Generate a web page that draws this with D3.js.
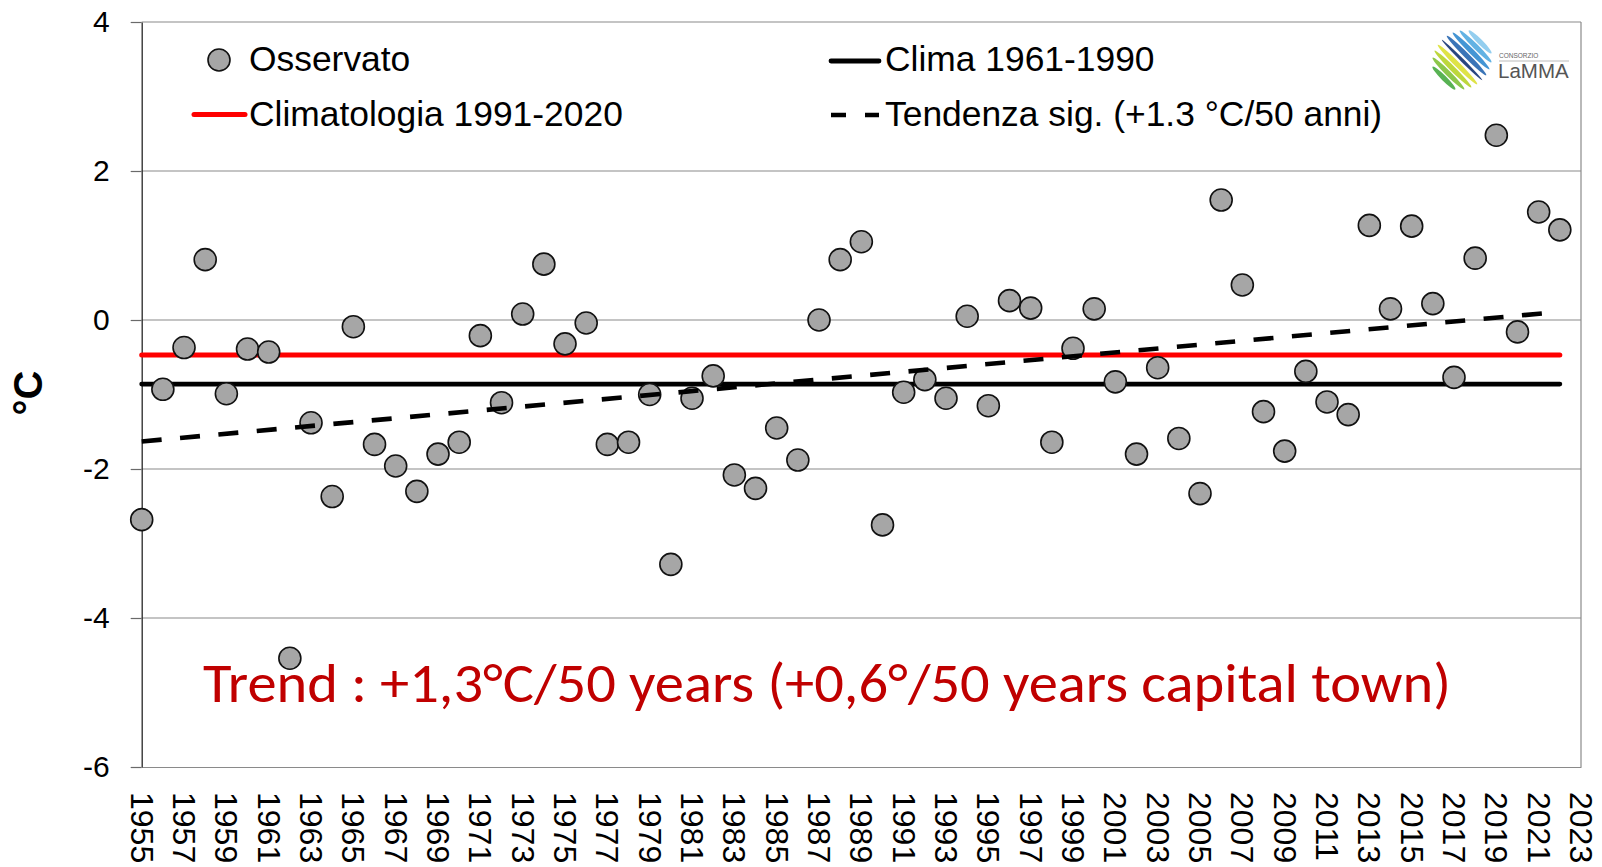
<!DOCTYPE html>
<html>
<head>
<meta charset="utf-8">
<script src="https://cdn.jsdelivr.net/npm/d3@7"></script>
<style>
  html, body { margin: 0; padding: 0; background: #fff; }
  svg { display: block; }
</style>
</head>
<body>
<svg id="chart" width="1602" height="867"></svg>
<script>
// Annual temperature anomaly (°C), observed series
const years = [1955,1956,1957,1958,1959,1960,1961,1962,1963,1964,
  1965,1966,1967,1968,1969,1970,1971,1972,1973,1974,
  1975,1976,1977,1978,1979,1980,1981,1982,1983,1984,
  1985,1986,1987,1988,1989,1990,1991,1992,1993,1994,
  1995,1996,1997,1998,1999,2000,2001,2002,2003,2004,
  2005,2006,2007,2008,2009,2010,2011,2012,2013,2014,
  2015,2016,2017,2018,2019,2020,2021,2022];

const observed = [-2.68,-0.93,-0.37,0.81,-0.99,-0.39,-0.43,-4.54,-1.38,-2.37,
  -0.09,-1.67,-1.96,-2.30,-1.80,-1.64,-0.21,-1.11,0.08,0.75,
  -0.32,-0.04,-1.67,-1.64,-1.00,-3.28,-1.05,-0.75,-2.08,-2.26,
  -1.45,-1.88,0.00,0.81,1.05,-2.75,-0.97,-0.80,-1.05,0.05,
  -1.15,0.26,0.16,-1.64,-0.38,0.15,-0.83,-1.80,-0.64,-1.59,
  -2.33,1.61,0.47,-1.23,-1.76,-0.69,-1.10,-1.27,1.27,0.15,
  1.26,0.22,-0.77,0.83,2.48,-0.16,1.45,1.21];

// Reference climatologies (constant over the period) and significant trend
const clima6190 = [[1955, -0.86], [2022, -0.86]];
const clima9120 = [[1955, -0.47], [2022, -0.47]];
const trendLine = [[1955, -1.63], [2022, 0.11]];

// Axis ticks
const xTickLabels = ["1955","1957","1959","1961","1963","1965","1967","1969","1971","1973",
  "1975","1977","1979","1981","1983","1985","1987","1989","1991","1993",
  "1995","1997","1999","2001","2003","2005","2007","2009","2011","2013",
  "2015","2017","2019","2021","2023"];
const yTickValues = [-6, -4, -2, 0, 2, 4];
const gridValues = [-4, -2, 0, 2, 4];

const svg = d3.select("#chart");
const plotL = 141.7, plotR = 1581, plotT = 22, plotB = 767;
const AX_FONT = "'Liberation Sans', Arial, sans-serif";

const x = d3.scaleLinear().domain([1955, 2023]).range([plotL, plotR]);
const y = d3.scaleLinear().domain([-6, 4]).range([plotB, plotT]);

// Horizontal gridlines and frame
svg.append("g").selectAll("line").data(gridValues).join("line")
  .attr("x1", plotL).attr("x2", plotR)
  .attr("y1", d => y(d)).attr("y2", d => y(d))
  .attr("stroke", "#8a8a8a").attr("stroke-width", 1.2);
svg.append("line").attr("x1", plotR).attr("x2", plotR).attr("y1", plotT).attr("y2", plotB)
  .attr("stroke", "#8a8a8a").attr("stroke-width", 1.2);

// X axis (categories), labels rotated to read downward
const xAxis = svg.append("g").attr("transform", `translate(0,${plotB})`)
  .call(d3.axisBottom(x).tickValues(xTickLabels.map(Number)).tickFormat(d3.format("d"))
    .tickSize(0).tickSizeOuter(0));
xAxis.select(".domain").attr("stroke", "#8a8a8a").attr("stroke-width", 1.2);
xAxis.selectAll(".tick text")
  .attr("transform", "rotate(90)")
  .attr("x", 25).attr("y", 0).attr("dy", "0.36em")
  .attr("text-anchor", "start")
  .attr("font-family", AX_FONT).attr("font-size", 32).attr("fill", "#000");

// Y axis (plain hyphen for negatives)
const yAxis = svg.append("g").attr("transform", `translate(${plotL},0)`)
  .call(d3.axisLeft(y).tickValues(yTickValues).tickFormat(d => String(d))
    .tickSize(11).tickSizeOuter(0).tickPadding(21));
yAxis.select(".domain").attr("stroke", "#262626").attr("stroke-width", 1.3);
yAxis.selectAll(".tick line").attr("stroke", "#6a6a6a").attr("stroke-width", 1.2);
yAxis.selectAll(".tick text")
  .attr("font-family", AX_FONT).attr("font-size", 30).attr("fill", "#000");

// Y axis title
svg.append("text")
  .attr("transform", "translate(42,393) rotate(-90)")
  .attr("text-anchor", "middle")
  .attr("font-family", AX_FONT).attr("font-weight", "bold").attr("font-size", 40)
  .text("°C");

const line = d3.line().x(d => x(d[0])).y(d => y(d[1]));

// Climatology lines
svg.append("path").datum(clima9120).attr("d", line)
  .attr("fill", "none").attr("stroke", "#ff0000").attr("stroke-width", 5).attr("stroke-linecap", "round");
svg.append("path").datum(clima6190).attr("d", line)
  .attr("fill", "none").attr("stroke", "#000").attr("stroke-width", 4.8).attr("stroke-linecap", "round");

// Observed values
svg.append("g").selectAll("circle").data(years.map((yr, i) => [yr, observed[i]])).join("circle")
  .attr("cx", d => x(d[0])).attr("cy", d => y(d[1])).attr("r", 11)
  .attr("fill", "#a6a6a6").attr("stroke", "#111").attr("stroke-width", 1.6);

// Significant trend
svg.append("path").datum(trendLine).attr("d", line)
  .attr("fill", "none").attr("stroke", "#000").attr("stroke-width", 4.6)
  .attr("stroke-dasharray", "20 18.5");

// Legend
const lg = svg.append("g").attr("font-family", AX_FONT).attr("font-size", 35.4).attr("fill", "#000");
lg.append("circle").attr("cx", 219).attr("cy", 60).attr("r", 11)
  .attr("fill", "#a6a6a6").attr("stroke", "#111").attr("stroke-width", 1.6);
lg.append("text").attr("x", 249).attr("y", 71).text("Osservato");
lg.append("line").attr("x1", 194).attr("x2", 245).attr("y1", 114.5).attr("y2", 114.5)
  .attr("stroke", "#ff0000").attr("stroke-width", 5).attr("stroke-linecap", "round");
lg.append("text").attr("x", 249).attr("y", 126).text("Climatologia 1991-2020");
lg.append("line").attr("x1", 831).attr("x2", 879).attr("y1", 61).attr("y2", 61)
  .attr("stroke", "#000").attr("stroke-width", 4.8).attr("stroke-linecap", "round");
lg.append("text").attr("x", 885).attr("y", 71).text("Clima 1961-1990");
lg.append("line").attr("x1", 831).attr("x2", 879).attr("y1", 115).attr("y2", 115)
  .attr("stroke", "#000").attr("stroke-width", 4.6).attr("stroke-dasharray", "15 19");
lg.append("text").attr("x", 885).attr("y", 126).text("Tendenza sig. (+1.3 °C/50 anni)");

// Trend note
svg.append("text")
  .attr("x", 203).attr("y", 702)
  .attr("font-family", "Carlito, Calibri, Lato, 'Open Sans', sans-serif")
  .attr("font-size", 56).attr("fill", "#c00000")
  .attr("textLength", 1248).attr("lengthAdjust", "spacingAndGlyphs")
  .text("Trend : +1,3°C/50 years (+0,6°/50 years capital town)");

// LaMMA logo
const logo = svg.append("g").attr("transform", "translate(1462,60)");
const stripeColors = ["#4fae4a", "#86c440", "#b9d531", "#dde23d", "#1d3c78", "#2f6db3", "#3a8fd2", "#5aaee2", "#8dcbee"];
const R = 31;
stripeColors.forEach((c, i) => {
  const d = (i - 4) * 6.4;
  const half = Math.sqrt(Math.max(R * R - d * d, 0)) * 0.92;
  logo.append("ellipse")
    .attr("transform", `rotate(45) translate(0,${-d})`)
    .attr("cx", 0).attr("cy", 0).attr("rx", half).attr("ry", i === 4 ? 1.6 : 2.6)
    .attr("fill", c).attr("opacity", 0.95);
});
svg.append("text").attr("x", 1499).attr("y", 58)
  .attr("font-family", AX_FONT).attr("font-size", 6.5).attr("fill", "#666").text("CONSORZIO");
svg.append("line").attr("x1", 1499).attr("x2", 1569).attr("y1", 61).attr("y2", 61)
  .attr("stroke", "#aaa").attr("stroke-width", 0.8);
svg.append("text").attr("x", 1498).attr("y", 78)
  .attr("font-family", AX_FONT).attr("font-size", 20.5).attr("fill", "#555").text("LaMMA");
</script>
</body>
</html>
